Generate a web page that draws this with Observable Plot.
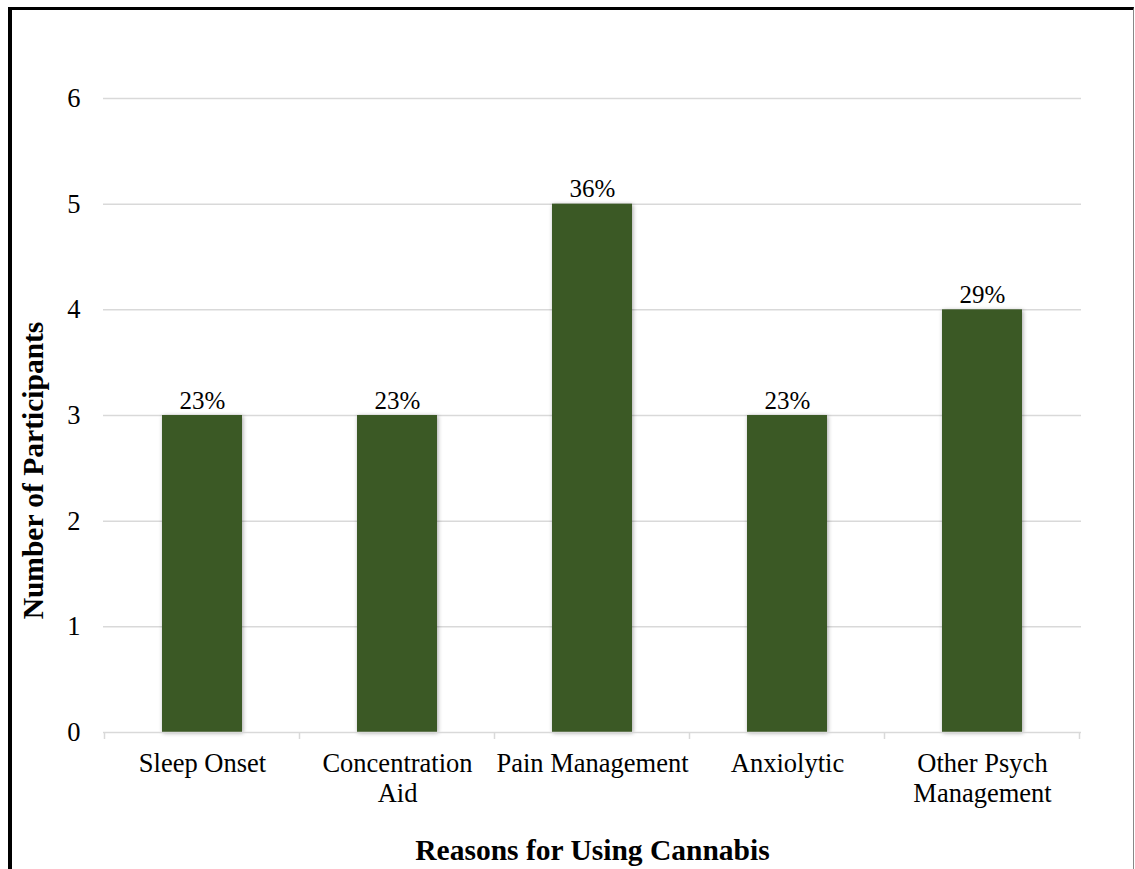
<!DOCTYPE html>
<html>
<head>
<meta charset="utf-8">
<script src="https://cdn.jsdelivr.net/npm/d3@7"></script>
<script src="https://cdn.jsdelivr.net/npm/@observablehq/plot@0.6"></script>
<style>
  html, body { margin: 0; padding: 0; background: #fff; }
  #chart { position: absolute; left: 0; top: 0; }
  #frame { position: absolute; left: 8px; top: 7px; width: 1121px; height: 870px;
           border-left: 4px solid #000; border-top: 3px solid #000; border-right: 1px solid #888;
           pointer-events: none; }
  #chart svg rect.bar { filter: drop-shadow(1px 1px 2px rgba(0,0,0,0.35)); }
</style>
</head>
<body>
<div id="chart"></div>
<div id="frame"></div>
<script>
const categories = ["Sleep Onset", "Concentration Aid", "Pain Management", "Anxiolytic", "Other Psych Management"];
const tickLabels = ["Sleep Onset", "Concentration\nAid", "Pain Management", "Anxiolytic", "Other Psych\nManagement"];
const counts = [3, 3, 5, 3, 4];
const percentLabels = ["23%", "23%", "36%", "23%", "29%"];
const yTicks = [0, 1, 2, 3, 4, 5, 6];
const xTitle = "Reasons for Using Cannabis";
const yTitle = "Number of Participants";

const data = categories.map((c, i) => ({category: c, count: counts[i], pct: percentLabels[i], label: tickLabels[i]}));
const labelOf = new Map(categories.map((c, i) => [c, tickLabels[i]]));

const font = "'Liberation Serif', 'Times New Roman', serif";
const plot = Plot.plot({
  width: 1135,
  height: 869,
  marginLeft: 103,
  marginRight: 54,
  marginTop: 98,
  marginBottom: 137,
  style: {fontFamily: font, fontSize: "26.5px", color: "#000", background: "#fff"},
  x: {domain: categories, paddingInner: 0.59, paddingOuter: 0.295, label: null},
  y: {domain: [0, 6], ticks: yTicks, label: null},
  marks: [
    Plot.gridY(yTicks.filter(d => d > 0), {stroke: "#d9d9d9", strokeOpacity: 1, strokeWidth: 1.5}),
    Plot.axisY({ticks: yTicks, tickSize: 0, tickPadding: 23, fontSize: 26.5, label: null, tickFormat: d3.format("d"), fill: "#000"}),
    Plot.axisX({tickSize: 0, tickPadding: 18, fontSize: 26.5, label: null, lineHeight: 1.13, fill: "#000", tickFormat: d => labelOf.get(d)}),
    Plot.barY(data, {x: "category", y: "count", fill: "#3b5925", className: "bar"}),
    Plot.ruleY([0], {stroke: "#d9d9d9", strokeWidth: 1.5}),
    Plot.text(data, {x: "category", y: "count", text: "pct", lineAnchor: "bottom", dy: -7, fontSize: 25, fill: "#000"}),
    Plot.text([yTitle], {frameAnchor: "left", textAnchor: "middle", lineAnchor: "middle", dx: -70, dy: 55, rotate: -90, fontSize: 29.5, fontWeight: "bold", fill: "#000"}),
    Plot.text([xTitle], {frameAnchor: "bottom", textAnchor: "middle", lineAnchor: "bottom", dy: 127, fontSize: 29.5, fontWeight: "bold", fill: "#000"})
  ]
});

// category boundary tick marks on the baseline, from the library's own x scale
const xs = plot.scale("x");
const ys = plot.scale("y");
const step = xs.step;
const bw = xs.bandwidth;
const base = ys.apply(0);
const bounds = categories.map(c => xs.apply(c) - (step - bw) / 2);
bounds.push(xs.apply(categories[categories.length - 1]) + bw + (step - bw) / 2);
const svg = d3.select(plot);
svg.append("g").selectAll("line").data(bounds).join("line")
  .attr("x1", d => d).attr("x2", d => d)
  .attr("y1", base).attr("y2", base + 7)
  .attr("stroke", "#d9d9d9").attr("stroke-width", 1.5);
svg.selectAll("g[aria-label='bar'] rect").classed("bar", true);

document.getElementById("chart").appendChild(plot);
</script>
</body>
</html>
